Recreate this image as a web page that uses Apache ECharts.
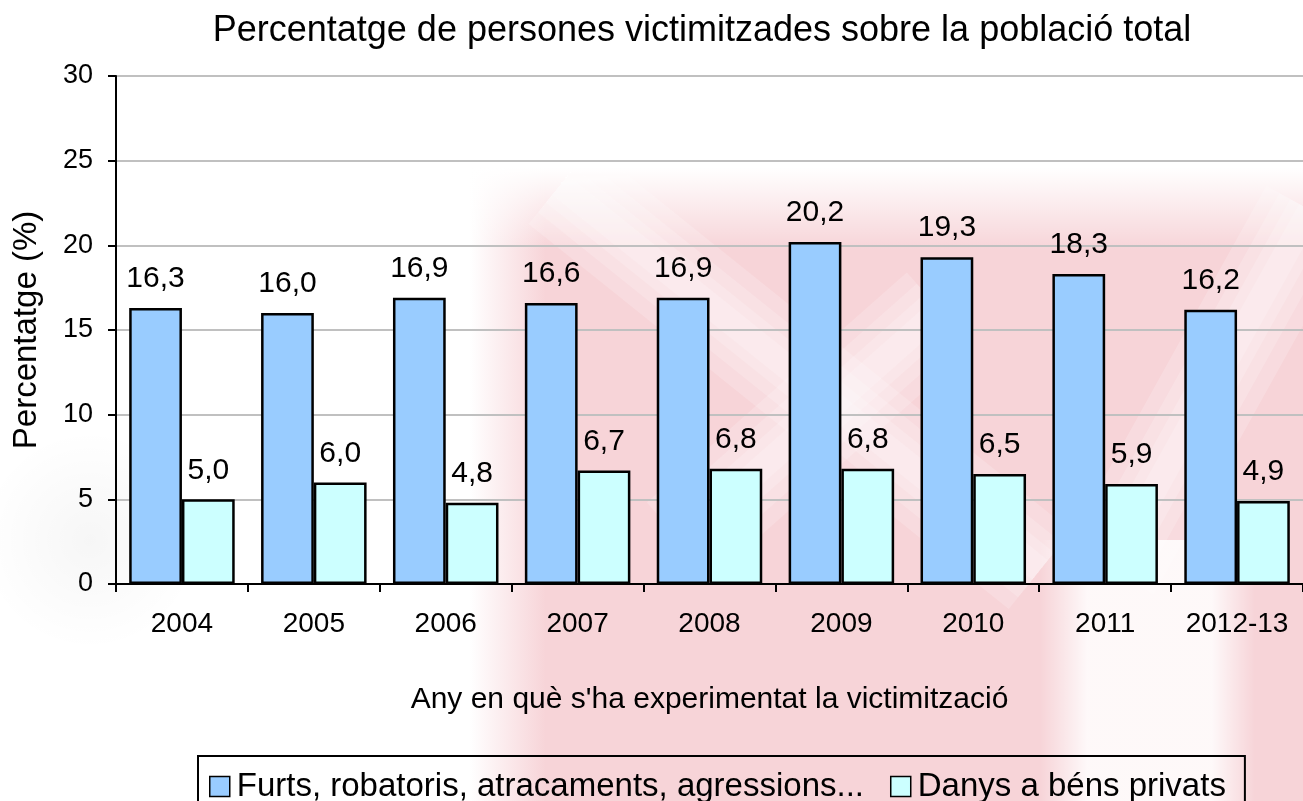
<!DOCTYPE html>
<html>
<head>
<meta charset="utf-8">
<title>Percentatge de persones victimitzades</title>
<script src="https://cdn.jsdelivr.net/npm/echarts@6/dist/echarts.min.js"></script>
<style>
  html, body { margin: 0; padding: 0; background: #fff; }
  #chart { width: 1303px; height: 801px; }
</style>
</head>
<body>
<div id="chart"></div>
<script>
  // dades llegides del gràfic
  const years = ['2004', '2005', '2006', '2007', '2008', '2009', '2010', '2011', '2012-13']
  const furts = [16.3, 16.0, 16.9, 16.6, 16.9, 20.2, 19.3, 18.3, 16.2]
  const danys = [5.0, 6.0, 4.8, 6.7, 6.8, 6.8, 6.5, 5.9, 4.9]
  const seriesNames = ['Furts, robatoris, atracaments, agressions...', 'Danys a béns privats']

  const font = "'Liberation Sans', Arial, sans-serif"
  const fmt = (p) => p.value.toFixed(1).replace('.', ',')

  const chart = echarts.init(document.getElementById('chart'))

  // marca d'aigua rosada del fons (aproximada, difuminada amb degradats)
  const pink = 'rgba(247,212,216,1)'
  const pink0 = 'rgba(247,212,216,0)'
  const white = 'rgba(255,255,255,0.85)'
  const white0 = 'rgba(255,255,255,0)'
  const softLine = (x1, y1, x2, y2) => [100, 70, 45, 25].map((w) => ({
    type: 'line',
    shape: { x1, y1, x2, y2 },
    style: { stroke: 'rgba(255,255,255,0.18)', lineWidth: w, lineCap: 'butt' },
    z: -9,
    silent: true
  }))
  const watermark = [
    { type: 'rect', shape: { x: 470, y: 150, width: 840, height: 670 },
      style: { fill: new echarts.graphic.LinearGradient(0, 0, 1, 0, [
        { offset: 0, color: pink0 }, { offset: 0.09, color: pink }, { offset: 1, color: pink }
      ]) }, z: -10, silent: true },
    { type: 'rect', shape: { x: 470, y: 140, width: 840, height: 110 },
      style: { fill: new echarts.graphic.LinearGradient(0, 0, 0, 1, [
        { offset: 0, color: '#fff' }, { offset: 0.25, color: '#fff' }, { offset: 1, color: white0 }
      ]) }, z: -9, silent: true },
    ...softLine(560, 185, 1040, 570),
    ...softLine(1310, 210, 1110, 570),
    ...softLine(680, 540, 940, 310),
    { type: 'rect', shape: { x: 1040, y: 540, width: 215, height: 280 },
      style: { fill: new echarts.graphic.LinearGradient(0, 0, 1, 0, [
        { offset: 0, color: white0 }, { offset: 0.22, color: white }, { offset: 0.8, color: white }, { offset: 1, color: white0 }
      ]) }, z: -9, silent: true },
    { type: 'ellipse', shape: { cx: 90, cy: 540, rx: 110, ry: 230 },
      style: { fill: new echarts.graphic.RadialGradient(0.5, 0.5, 0.5, [
        { offset: 0, color: 'rgba(0,0,0,0.035)' }, { offset: 1, color: 'rgba(0,0,0,0)' }
      ]) }, z: -9, silent: true }
  ]

  const option = {
    backgroundColor: '#fff',
    textStyle: { fontFamily: font, color: '#000' },
    animation: false,
    graphic: watermark,
    title: {
      text: 'Percentatge de persones victimitzades sobre la població total',
      left: 697,
      textAlign: 'center',
      top: 8,
      textStyle: { fontSize: 36, fontWeight: 'normal', color: '#000', fontFamily: font }
    },
    legend: {
      data: seriesNames,
      left: 198,
      top: 756,
      orient: 'horizontal',
      icon: 'rect',
      padding: [14, 19, 40, 11],
      itemGap: 26,
      itemWidth: 20,
      itemHeight: 20,
      borderColor: '#000',
      borderWidth: 2,
      itemStyle: { borderColor: '#000', borderWidth: 1.5 },
      textStyle: { fontSize: 33, color: '#000', fontFamily: font, padding: [0, 0, 0, 2] }
    },
    grid: { left: 116, top: 76, width: 1191, height: 508 },
    xAxis: {
      type: 'category',
      data: years,
      name: "Any en què s'ha experimentat la victimització",
      nameLocation: 'middle',
      nameGap: 101,
      nameTextStyle: { fontSize: 30, color: '#000' },
      axisLine: { lineStyle: { color: '#000', width: 2 } },
      axisTick: { show: true, interval: 0, length: 8, lineStyle: { color: '#000', width: 2 } },
      axisLabel: { interval: 0, fontSize: 28, color: '#000', margin: 26 }
    },
    yAxis: {
      type: 'value',
      min: 0,
      max: 30,
      interval: 5,
      name: 'Percentatge (%)',
      nameLocation: 'middle',
      nameGap: 73,
      nameTextStyle: { fontSize: 33, color: '#000' },
      axisLine: { show: true, lineStyle: { color: '#000', width: 2 } },
      axisTick: { show: true, length: 8, lineStyle: { color: '#000', width: 2 } },
      axisLabel: { fontSize: 27, color: '#000', margin: 23 },
      splitLine: { lineStyle: { color: '#c0c0c0', width: 2 } }
    },
    series: [
      {
        name: seriesNames[0],
        type: 'bar',
        data: furts,
        barGap: '0%',
        barCategoryGap: '20%',
        itemStyle: { color: '#99ccff', borderColor: '#000', borderWidth: 2.5 },
        label: { show: true, position: 'top', distance: 14, fontSize: 30, color: '#000', formatter: fmt }
      },
      {
        name: seriesNames[1],
        type: 'bar',
        data: danys,
        itemStyle: { color: '#ccffff', borderColor: '#000', borderWidth: 2.5 },
        label: { show: true, position: 'top', distance: 14, fontSize: 30, color: '#000', formatter: fmt }
      }
    ]
  }

  chart.setOption(option)
</script>
</body>
</html>
